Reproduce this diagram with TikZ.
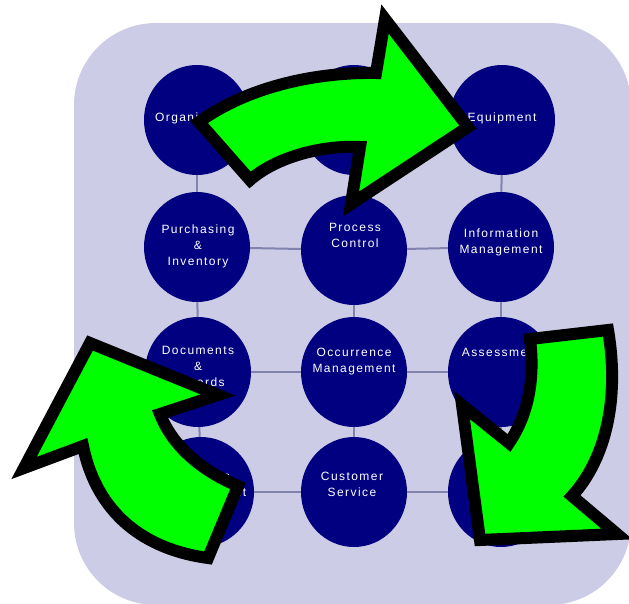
\documentclass[tikz,border=0pt]{standalone}
\usepackage{fontspec}
\setmainfont{Liberation Sans}
\newfontfamily\lblfont[LetterSpace=12]{Liberation Sans}
\usetikzlibrary{shapes.geometric}
\definecolor{bgcol}{RGB}{204,204,230}
\definecolor{circfill}{RGB}{0,0,128}
\definecolor{linkcol}{RGB}{130,130,175}
\definecolor{arrowgreen}{RGB}{0,255,0}
\tikzset{
  circ/.style={ellipse, fill=circfill, draw=none, minimum width=106pt, minimum height=110pt, inner sep=0pt},
  lbl/.style={anchor=north, inner sep=0pt, align=center, text=white, font=\lblfont\fontsize{12}{16}\selectfont},
  link/.style={draw=linkcol, line width=2pt},
  bigarrow/.style={fill=arrowgreen, draw=black, line width=12pt, line join=miter}
}
\begin{document}
\begin{tikzpicture}[x=1pt, y=-1pt]
\useasboundingbox (0,0) rectangle (629,603);
\fill[bgcol, rounded corners=82pt] (74,23) rectangle (631,605);

% circles
\node[circ] (c11) at (197,120) {};
\node[circ] (c12) at (354,120) {};
\node[circ] (c13) at (502,120) {};
\node[circ] (c21) at (197,247) {};
\node[circ] (c22) at (354,250) {};
\node[circ] (c23) at (501,247) {};
\node[circ] (c31) at (198,372) {};
\node[circ] (c32) at (354,372) {};
\node[circ] (c33) at (501,372) {};
\node[circ] (c41) at (201,492) {};
\node[circ] (c42) at (354,492) {};
\node[circ] (c43) at (501,492) {};

% connectors
\path[link] (c11) -- (c21);
\path[link] (c21) -- (c31);
\path[link] (c31) -- (c41);
\path[link] (c12) -- (c22);
\path[link] (c22) -- (c32);
\path[link] (c32) -- (c42);
\path[link] (c13) -- (c23);
\path[link] (c23) -- (c33);
\path[link] (c33) -- (c43);
\path[link] (c11) -- (c12);
\path[link] (c12) -- (c13);
\path[link] (c21) -- (c22);
\path[link] (c22) -- (c23);
\path[link] (c31) -- (c32);
\path[link] (c32) -- (c33);
\path[link] (c41) -- (c42);
\path[link] (c42) -- (c43);

% labels
\node[lbl] (t11) at (197,112.4) {Organization};
\node[lbl] (t13) at (502,112.4) {Equipment};
\node[lbl] (t21) at (198,224.4) {Purchasing\\\&\\Inventory};
\node[lbl] (t22) at (355,223.4) {Process\\Control};
\node[lbl] (t23) at (501,228.4) {Information\\Management};
\node[lbl] (t31) at (198,346.4) {Documents\\\&\\Records};
\node[lbl] (t32) at (354,348.4) {Occurrence\\Management};
\node[lbl] (t33) at (501,348.4) {Assessment};
\node[lbl] (t41) at (204,472.4) {Process\\Improvement};
\node[lbl] (t42) at (352,472.4) {Customer\\Service};

% arrows
\draw[bigarrow] (199,122) .. controls (250,85) and (320,72) .. (376,73)
  -- (385,19) -- (468,127) -- (351,204) -- (360,147)
  .. controls (320,145) and (275,158) .. (250,180) -- cycle;
\draw[bigarrow] (530,339) -- (608,330) .. controls (620,400) and (605,460) .. (572,496)
  -- (617,534) -- (480,540) -- (462,405) -- (509,443)
  .. controls (528,415) and (535,380) .. (530,339) -- cycle;
\draw[bigarrow] (208,558) -- (238,486) .. controls (200,470) and (172,445) .. (160,414)
  -- (218,395) -- (90,343) -- (24,468) -- (83,446)
  .. controls (95,505) and (135,548) .. (208,558) -- cycle;
\end{tikzpicture}
\end{document}
